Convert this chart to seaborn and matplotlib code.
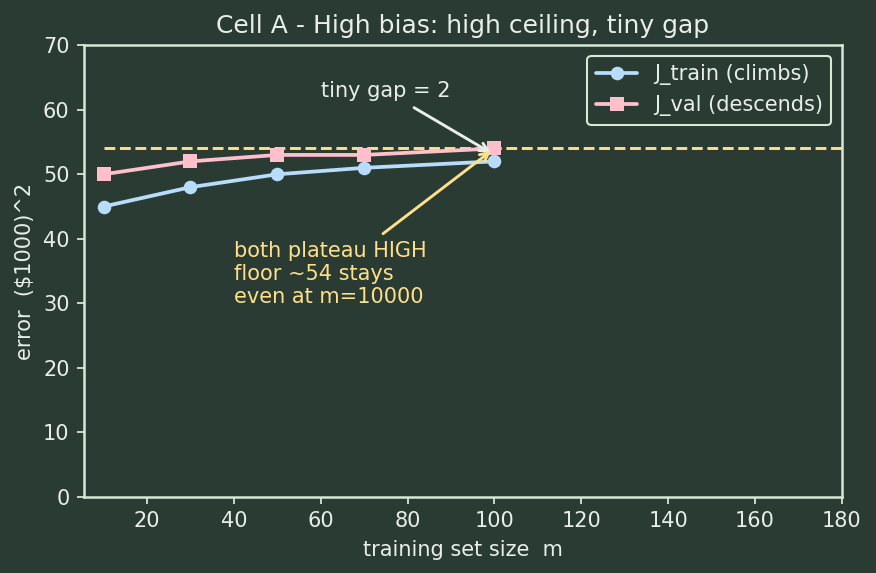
import matplotlib
matplotlib.use("Agg")
import matplotlib.pyplot as plt
import seaborn as sns
import pandas as pd

m_sizes = [10, 30, 50, 70, 100]
j_train = [45, 48, 50, 51, 52]
j_val = [50, 52, 53, 53, 54]
floor_level = 54
x_ticks = [20, 40, 60, 80, 100, 120, 140, 160, 180]
y_ticks = [0, 10, 20, 30, 40, 50, 60, 70]

BG = "#2a3b33"
FG = "#e8efe8"
SPINE = "#d6e8d6"
BLUE = "#b8dcfb"
PINK = "#ffc0cb"
YELLOW = "#ffe08a"

sns.set_style("dark")
plt.rcParams.update({
    "font.family": ["DejaVu Sans"],
    "axes.facecolor": BG,
    "figure.facecolor": BG,
    "text.color": FG,
    "axes.labelcolor": FG,
    "xtick.color": FG,
    "ytick.color": FG,
    "axes.edgecolor": SPINE,
})

fig, ax = plt.subplots(figsize=(5.84, 3.82), dpi=150)
fig.subplots_adjust(left=0.096, right=0.961, bottom=0.133, top=0.921)

df = pd.DataFrame({"m": m_sizes, "train": j_train, "val": j_val})
sns.lineplot(data=df, x="m", y="train", ax=ax, color=BLUE, marker="o",
             markersize=6.5, markeredgewidth=0, linewidth=1.8,
             label="J_train (climbs)")
sns.lineplot(data=df, x="m", y="val", ax=ax, color=PINK, marker="s",
             markersize=6.5, markeredgewidth=0, linewidth=1.8,
             label="J_val (descends)")
ax.hlines(floor_level, m_sizes[0], 180, colors=YELLOW, linestyles="--",
          linewidth=1.4, zorder=1)

ax.set_xlim(5.5, 180)
ax.set_ylim(0, 70)
ax.set_xticks(x_ticks)
ax.set_yticks(y_ticks)
ax.tick_params(axis="both", which="both", length=3.5, width=0.8,
               labelsize=10, bottom=True, left=True)
for s in ax.spines.values():
    s.set_visible(True)
    s.set_color(SPINE)
    s.set_linewidth(1.2)
ax.grid(False)

ax.set_title("Cell A - High bias: high ceiling, tiny gap", fontsize=12, color=FG)
ax.set_xlabel("training set size  m", fontsize=10)
ax.set_ylabel("error  ($1000)^2", fontsize=10)

ax.annotate("tiny gap = 2", xy=(m_sizes[-1], j_val[-1] - 1), xytext=(60, 62),
            fontsize=10, color=FG,
            arrowprops=dict(arrowstyle="->", color=FG, lw=1.4))
ax.annotate("both plateau HIGH\nfloor ~54 stays\neven at m=10000",
            xy=(m_sizes[-1], floor_level), xytext=(40, 30),
            fontsize=10, color=YELLOW,
            arrowprops=dict(arrowstyle="->", color=YELLOW, lw=1.4))

leg = ax.legend(loc="upper right", fontsize=10, frameon=True)
leg.get_frame().set_facecolor(BG)
leg.get_frame().set_edgecolor(SPINE)
leg.get_frame().set_alpha(1)
for t in leg.get_texts():
    t.set_color(FG)

fig.savefig("out.png", dpi=150, facecolor=BG)
